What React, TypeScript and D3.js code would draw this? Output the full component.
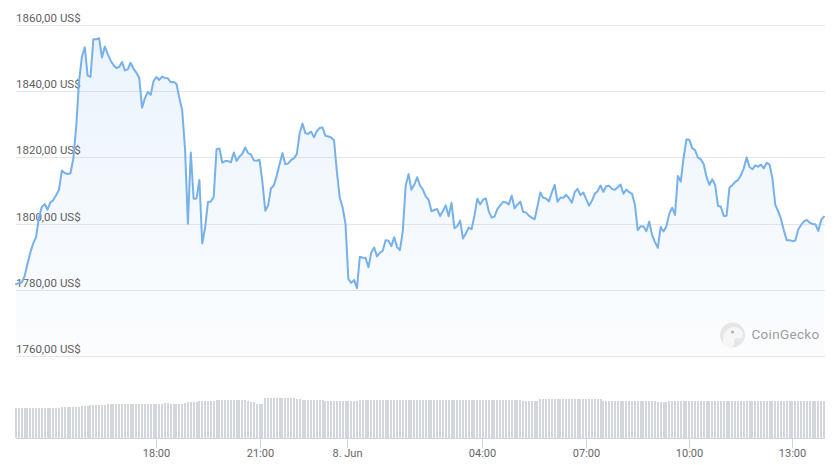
import * as d3 from "d3";

// ETH price, 5-minute samples (USD)
const prices = [
  1781.7, 1782.0, 1782.2, 1784.1, 1787.8, 1791.3, 1794.0, 1795.9, 1801.8, 1805.0,
  1805.9, 1804.2, 1806.4, 1807.1, 1808.6, 1810.2, 1816.0, 1815.3, 1815.0, 1815.2,
  1819.6, 1829.0, 1843.0, 1850.4, 1853.3, 1844.7, 1844.3, 1855.7, 1855.7, 1856.0,
  1850.2, 1853.5, 1851.2, 1849.3, 1847.9, 1847.0, 1847.3, 1848.8, 1846.3, 1846.6,
  1848.6, 1846.8, 1845.6, 1844.1, 1835.0, 1837.9, 1839.8, 1838.9, 1843.0, 1844.3,
  1843.4, 1844.4, 1844.0, 1843.9, 1842.7, 1842.8, 1842.2, 1838.0, 1834.3, 1822.5,
  1800.0, 1821.5, 1807.5, 1807.6, 1813.2, 1794.0, 1798.8, 1806.5, 1806.7, 1808.1,
  1822.5, 1822.7, 1818.4, 1818.9, 1818.9, 1818.5, 1821.5, 1818.9, 1820.3, 1821.1,
  1823.0, 1821.3, 1820.9, 1819.1, 1819.0, 1819.3, 1812.5, 1803.9, 1805.5, 1810.7,
  1811.5, 1814.5, 1817.9, 1821.3, 1817.9, 1818.2, 1819.2, 1819.7, 1821.0, 1827.3,
  1830.2, 1827.3, 1827.1, 1827.8, 1826.1, 1827.9, 1828.9, 1829.0, 1826.5, 1826.3,
  1826.0, 1825.1, 1815.6, 1807.8, 1804.8, 1799.9, 1783.2, 1782.1, 1783.0, 1780.5,
  1790.0, 1789.7, 1789.6, 1786.8, 1791.3, 1792.8, 1790.1, 1791.2, 1791.8, 1795.0,
  1794.8, 1793.2, 1795.9, 1792.9, 1792.0, 1797.8, 1811.4, 1815.0, 1810.2, 1811.7,
  1814.0, 1811.5, 1810.3, 1808.2, 1807.2, 1803.7, 1804.1, 1804.4, 1802.3, 1803.8,
  1805.5, 1802.2, 1806.3, 1798.6, 1799.2, 1800.9, 1795.5, 1797.0, 1798.8, 1798.3,
  1802.4, 1807.5, 1805.8, 1807.2, 1807.6, 1803.7, 1801.8, 1802.1, 1804.4, 1805.5,
  1806.6, 1806.4, 1805.8, 1808.5, 1804.6, 1805.7, 1806.6, 1803.6, 1803.3, 1802.4,
  1801.8, 1801.3, 1805.2, 1809.4, 1807.8, 1807.6, 1806.7, 1809.4, 1811.7, 1806.6,
  1807.8, 1807.8, 1808.7, 1807.7, 1806.3, 1809.5, 1810.5, 1808.6, 1809.4, 1807.4,
  1805.4, 1806.9, 1809.0, 1809.8, 1811.5, 1809.6, 1811.3, 1811.4, 1810.5, 1810.2,
  1811.0, 1811.8, 1809.0, 1810.3, 1809.5, 1809.0, 1805.7, 1798.0, 1799.2, 1799.1,
  1797.7, 1800.6, 1796.6, 1794.4, 1792.7, 1799.0, 1797.6, 1799.2, 1803.0, 1804.8,
  1802.6, 1814.4, 1812.7, 1819.9, 1825.4, 1825.3, 1822.8, 1822.2, 1819.9, 1819.4,
  1818.0, 1814.1, 1811.7, 1813.4, 1811.7, 1805.4, 1805.1, 1802.3, 1802.4, 1810.9,
  1811.6, 1812.6, 1813.2, 1814.6, 1816.7, 1820.0, 1817.1, 1816.4, 1817.6, 1817.2,
  1817.8, 1816.7, 1818.4, 1817.8, 1813.7, 1805.7, 1803.7, 1801.4, 1797.9, 1795.0,
  1795.0, 1794.7, 1794.9, 1798.2, 1799.6, 1800.7, 1801.1, 1800.3, 1799.9, 1799.8,
  1797.8, 1801.1, 1802.1,
];

// 24h volume (billion USD), one per price sample
const volumes = [
  15.2, 15.2, 15.2, 15.2, 15.2, 15.2, 15.2, 15.2, 15.2, 15.2,
  15.2, 15.2, 15.2, 15.2, 15.2, 15.2, 15.7, 15.7, 15.7, 15.7,
  15.7, 15.7, 15.7, 16.2, 16.2, 16.2, 16.5, 16.5, 16.5, 16.5,
  16.5, 16.5, 17.0, 17.0, 17.0, 17.0, 17.0, 17.0, 17.0, 17.0,
  17.0, 17.0, 17.0, 17.0, 17.0, 17.0, 17.0, 17.0, 17.0, 17.0,
  17.0, 17.0, 17.5, 17.5, 17.2, 17.2, 17.0, 17.0, 17.0, 17.4,
  17.8, 17.8, 17.8, 17.8, 18.5, 18.5, 18.5, 18.5, 18.5, 18.5,
  19.0, 19.0, 19.0, 19.0, 19.0, 19.0, 19.0, 19.0, 19.0, 19.0,
  19.0, 18.6, 18.2, 18.2, 17.2, 17.2, 17.2, 20.2, 20.2, 20.2,
  20.2, 20.2, 20.2, 20.2, 20.2, 20.2, 20.2, 20.0, 19.5, 19.5,
  19.0, 19.0, 19.0, 19.0, 19.0, 19.0, 19.0, 19.0, 18.5, 18.5,
  18.5, 18.5, 18.5, 18.5, 18.5, 18.5, 18.5, 18.5, 18.5, 18.5,
  19.0, 19.0, 19.0, 19.0, 19.0, 19.0, 19.0, 19.0, 19.0, 19.0,
  19.0, 19.0, 19.0, 19.0, 19.0, 19.0, 19.0, 19.0, 19.0, 19.0,
  19.0, 19.0, 19.0, 19.0, 19.0, 19.0, 19.0, 19.0, 19.0, 19.0,
  19.0, 19.0, 19.0, 19.0, 19.0, 19.0, 19.0, 19.0, 19.0, 19.0,
  19.0, 19.0, 19.0, 19.0, 19.0, 19.0, 19.0, 19.0, 19.0, 19.0,
  19.0, 19.0, 19.0, 19.0, 19.0, 19.0, 19.0, 18.5, 18.5, 18.5,
  18.5, 18.5, 18.5, 19.3, 19.3, 19.3, 19.3, 19.3, 19.3, 19.3,
  19.3, 19.3, 19.3, 19.3, 19.3, 19.3, 19.3, 19.3, 19.3, 19.3,
  19.3, 19.3, 19.3, 19.3, 19.3, 18.5, 18.5, 18.5, 18.5, 18.5,
  18.5, 18.5, 18.5, 18.5, 18.5, 18.5, 18.5, 18.5, 18.5, 18.5,
  18.5, 18.5, 18.5, 18.5, 18.2, 18.2, 18.2, 18.2, 18.6, 18.6,
  18.6, 18.6, 18.6, 18.6, 18.6, 18.6, 18.6, 18.6, 18.6, 18.6,
  18.6, 18.6, 18.6, 18.6, 18.6, 18.6, 18.6, 18.6, 18.6, 18.6,
  18.6, 18.6, 18.6, 18.6, 18.6, 18.6, 18.6, 18.6, 18.6, 18.6,
  18.6, 18.6, 18.6, 18.6, 18.6, 18.6, 18.6, 18.6, 18.6, 18.6,
  18.6, 18.6, 18.6, 18.6, 18.6, 18.6, 18.6, 18.6, 18.6, 18.6,
  18.6, 18.6, 18.6,
];

// runs of 5-minute samples (the feed has gaps, axis is ordinal)
const segments = [
  { start: new Date(2022, 5, 7, 13, 55), count: 93 },
  { start: new Date(2022, 5, 7, 22, 7), count: 48 },
  { start: new Date(2022, 5, 8, 2, 11), count: 142 },
];

const tickTimes = [
  new Date(2022, 5, 7, 18), new Date(2022, 5, 7, 21), new Date(2022, 5, 8, 0),
  new Date(2022, 5, 8, 4), new Date(2022, 5, 8, 7), new Date(2022, 5, 8, 10),
  new Date(2022, 5, 8, 13),
];
const tickLabels = ["18:00", "21:00", "8. Jun", "04:00", "07:00", "10:00", "13:00"];
const priceTicks = [1760, 1780, 1800, 1820, 1840, 1860];

const width = 839;
const height = 465;
const left = 16;
const right = 824;
const volBase = 438;

const times = segments.flatMap(s =>
  d3.range(s.count).map(k => d3.timeMinute.offset(s.start, 5 * k))
);

const usd = d3.formatLocale({
  decimal: ",",
  thousands: "",
  grouping: [3],
  currency: ["", "\u00a0US$"],
}).format("$.2f");

// position of a time on the ordinal axis, between the two samples around it
function timeIndex(t: Date) {
  const i = d3.bisector((d: Date) => d).right(times, t) - 1;
  const a = +times[i];
  const b = +times[i + 1];
  return i + (+t - a) / (b - a);
}

export default function App() {
  const x = d3.scaleLinear().domain([0, prices.length - 1]).range([left, right]);
  const y = d3.scaleLinear().domain([1760, 1860]).range([356, 25]);
  const yVol = d3.scaleLinear().domain([0, 25]).range([volBase, volBase - 50]);

  const line = d3.line<number>().x((_, i) => x(i)).y(d => y(d));
  const area = d3.area<number>().x((_, i) => x(i)).y0(y(1760)).y1(d => y(d));

  const font = "Roboto, 'Open Sans', sans-serif";

  return (
    <svg
      width={width}
      height={height}
      style={{ position: "absolute", left: 0, top: 0, background: "#fff" }}
    >
      <defs>
        <linearGradient id="priceFill" x1="0" y1="0" x2="0" y2="1">
          <stop offset="0" stopColor="#7cb5ec" stopOpacity={0.15} />
          <stop offset="1" stopColor="#7cb5ec" stopOpacity={0.03} />
        </linearGradient>
      </defs>

      {/* grid */}
      {priceTicks.map(v => (
        <line
          key={v}
          x1={left}
          x2={825}
          y1={Math.round(y(v)) + 0.5}
          y2={Math.round(y(v)) + 0.5}
          stroke="#e6e6e6"
        />
      ))}

      {/* volume */}
      <g shapeRendering="crispEdges" fill="#d3d6dd">
        {volumes.map((v, i) => (
          <rect key={i} x={x(i) - 1} width={2} y={yVol(v)} height={volBase - yVol(v)} />
        ))}
      </g>

      <path d={area(prices)!} fill="url(#priceFill)" />

      {priceTicks.map(v => (
        <text
          key={v}
          x={left}
          y={Math.round(y(v)) - 3}
          fill="#5f5f5f"
          fontSize={11.5}
          fontFamily={font}
        >
          {usd(v)}
        </text>
      ))}

      <path
        d={line(prices)!}
        fill="none"
        stroke="#76b1eb"
        strokeWidth={2}
        strokeLinejoin="round"
        strokeLinecap="round"
      />

      {/* x axis */}
      <line x1={left} x2={825} y1={volBase + 0.5} y2={volBase + 0.5} stroke="#ccd6eb" />
      {tickTimes.map((t, k) => {
        const px = Math.round(x(timeIndex(t))) + 0.5;
        return (
          <g key={k}>
            <line x1={px} x2={px} y1={volBase} y2={volBase + 10} stroke="#ccd6eb" />
            <text
              x={px}
              y={456.5}
              textAnchor="middle"
              fill="#666"
              fontSize={11}
              fontFamily={font}
            >
              {tickLabels[k]}
            </text>
          </g>
        );
      })}

      {/* watermark */}
      <g>
        <circle cx={732.5} cy={335} r={12.5} fill="#e6e6e6" />
        <path
          d="M723,343 C722,334 727,327 734,327 C740,327 743,331 743,335 C743,338 740,339 737,338 C735,338 734,340 734,343 L733,347 C728,348 723,346 723,343 Z"
          fill="#f6f6f6"
        />
        <circle cx={732.5} cy={332} r={1.6} fill="#b5b5b5" />
        <text
          x={751.5}
          y={339}
          fill="#9e9e9e"
          fontSize={13.5}
          letterSpacing={0.3}
          fontFamily={font}
        >
          CoinGecko
        </text>
      </g>
    </svg>
  );
}
